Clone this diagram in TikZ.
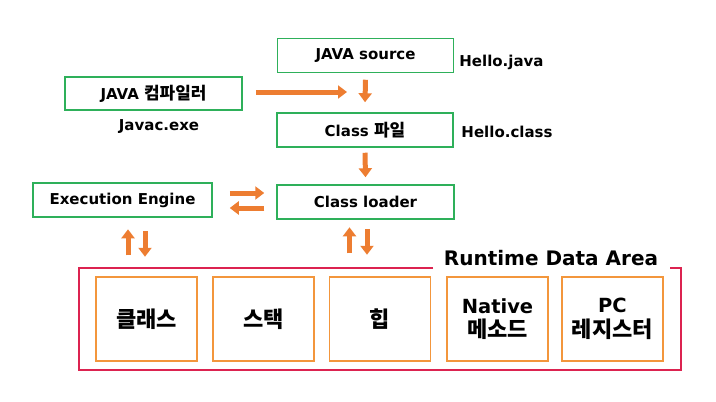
\documentclass[tikz,border=0pt]{standalone}
\usepackage{fontspec}
\setmainfont{DejaVu Sans}
\newfontfamily\kr{Noto Sans CJK KR}[Scale=1.13]
\newcommand{\hg}[1]{{\kr\bfseries #1}}
\usetikzlibrary{arrows.meta,positioning}
\definecolor{boxgreen}{RGB}{46,176,90}
\definecolor{flowor}{RGB}{237,125,49}
\definecolor{cellor}{RGB}{243,150,60}
\definecolor{areared}{RGB}{220,35,80}
\tikzset{
  srcbox/.style={draw=boxgreen,line width=1.5pt,minimum width=176pt,minimum height=34pt,font=\bfseries\fontsize{15}{17}\selectfont},
  note/.style={font=\bfseries\fontsize{15}{17}\selectfont},
  memcell/.style={draw=cellor,line width=1.4pt,minimum width=101pt,minimum height=84pt,align=center,font=\bfseries\fontsize{19.5}{24.5}\selectfont},
  flow/.style={flowor,line width=5pt,-{Triangle[length=9pt,width=13pt]}}
}
\begin{document}
\begin{tikzpicture}[x=1pt,y=-1pt]
  \useasboundingbox (0,0) rectangle (716,402);
  % compile path
  \node[srcbox] (src) at (365.5,55.5) {JAVA source};
  \node[srcbox,minimum width=177pt,minimum height=33pt] (javac) at (153.5,93.5) {JAVA \hg{컴파일러}};
  \node[srcbox] (cls) at (365,130) {Class \hg{파일}};
  \node[srcbox,minimum width=177pt] (loader) at (365.5,202) {Class loader};
  \node[srcbox,minimum width=179pt] (engine) at (122.5,200) {Execution Engine};
  \node[note] (hj) at (501.5,62) {Hello.java};
  \node[note] (jx) at (159,127) {Javac.exe};
  \node[note] (hc) at (507,132) {Hello.class};
  \coordinate (mid) at (347,92);
  \draw[flow] ([xshift=13pt]javac.east |- mid) -- (mid);
  \draw[flow] ([yshift=-6.5pt]src.south) -- ([yshift=10pt]cls.north);
  \draw[flow] ([yshift=-5pt]cls.south) -- ([yshift=7pt]loader.north);
  % engine <-> loader
  \draw[flow] ([xshift=17pt,yshift=7pt]engine.east) -- ([xshift=-12pt,yshift=9pt]loader.west);
  \draw[flow] ([xshift=-12pt,yshift=-6pt]loader.west) -- ([xshift=17pt,yshift=-8pt]engine.east);
  % runtime data area
  \draw[areared,line width=1.6pt] (433,268) -- (79,268) -- (79,370) -- (681,370) -- (681,268) -- (670,268);
  \node[font=\bfseries\fontsize{20}{22}\selectfont] (rda) at (551,258) {Runtime Data Area};
  \foreach \n/\cx/\txt in {m1/146.5/\hg{클래스}, m2/263.5/\hg{스택}, m3/380/\hg{힙}, m4/497.5/{Native\\\hg{메소드}}, m5/612.5/{PC\\\hg{레지스터}}}
    \node[memcell] (\n) at (\cx,319) {\txt};
  \draw[flow] ([xshift=-18.5pt,yshift=21pt]m1.north) -- ([xshift=-18.5pt,yshift=47pt]m1.north);
  \draw[flow] ([xshift=22.5pt,yshift=-13pt]engine.south) -- ([xshift=22.5pt,yshift=-39pt]engine.south);
  \draw[flow] ([xshift=-30.5pt,yshift=23pt]m3.north) -- ([xshift=-30.5pt,yshift=49pt]m3.north);
  \draw[flow] ([xshift=1.5pt,yshift=-9pt]loader.south) -- ([xshift=1.5pt,yshift=-35pt]loader.south);
\end{tikzpicture}
\end{document}
